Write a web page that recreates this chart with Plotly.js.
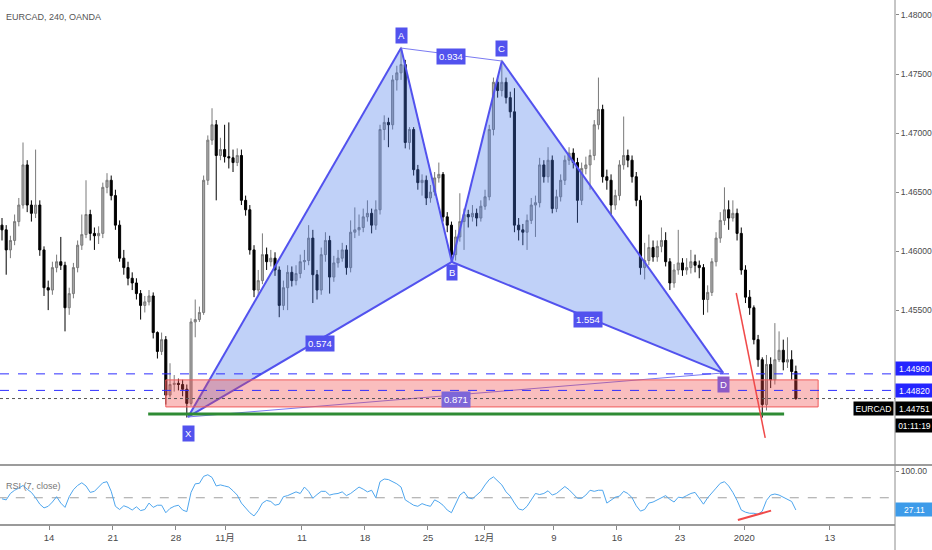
<!DOCTYPE html>
<html><head><meta charset="utf-8">
<script src="https://cdn.plot.ly/plotly-3.0.1.min.js"></script>
<style>html,body{margin:0;padding:0;background:#fff}#chart{width:932px;height:550px}</style>
</head><body><div id="chart"></div>
<script>
const firstOpen = 1.4622;
const close = [
1.4618,1.4601,1.4609,1.4625,1.4639,1.4673,1.4639,1.4632,1.4639,1.4601,
1.4569,1.4567,1.4586,1.4591,1.4588,1.4552,1.4564,1.4586,1.4605,1.4614,
1.4631,1.4615,1.4613,1.4615,1.4654,1.4660,1.4647,1.4622,1.4594,1.4586,
1.4577,1.4573,1.4564,1.4554,1.4557,1.4562,1.4531,1.4515,1.4525,1.4478,
1.4487,1.4488,1.4487,1.4483,1.4471,1.4540,1.4542,1.4548,1.4660,1.4694,
1.4707,1.4681,1.4686,1.4680,1.4679,1.4675,1.4681,1.4643,1.4635,1.4601,
1.4567,1.4575,1.4597,1.4591,1.4594,1.4584,1.4554,1.4569,1.4582,1.4575,
1.4581,1.4591,1.4592,1.4611,1.4580,1.4567,1.4597,1.4609,1.4578,1.4590,
1.4594,1.4601,1.4586,1.4616,1.4618,1.4620,1.4629,1.4632,1.4622,1.4635,
1.4703,1.4709,1.4707,1.4745,1.4751,1.4758,1.4692,1.4703,1.4669,1.4658,
1.4660,1.4645,1.4650,1.4662,1.4665,1.4629,1.4622,1.4597,1.4612,1.4625,
1.4631,1.4629,1.4632,1.4628,1.4638,1.4646,1.4703,1.4743,1.4736,1.4743,
1.4730,1.4718,1.4622,1.4618,1.4616,1.4626,1.4639,1.4641,1.4673,1.4663,
1.4677,1.4636,1.4646,1.4660,1.4677,1.4683,1.4675,1.4643,1.4670,1.4673,
1.4681,1.4707,1.4720,1.4663,1.4660,1.4639,1.4647,1.4673,1.4681,1.4677,
1.4663,1.4643,1.4586,1.4592,1.4603,1.4595,1.4604,1.4609,1.4591,1.4573,
1.4584,1.4590,1.4584,1.4586,1.4591,1.4588,1.4586,1.4559,1.4565,1.4591,
1.4611,1.4626,1.4635,1.4628,1.4632,1.4615,1.4584,1.4561,1.4552,1.4525,
1.4508,1.4470,1.4504,1.4491,1.4508,1.4516,1.4506,1.4508,1.4498,1.44751];
const high = [
1.4628,1.4622,1.4613,1.4631,1.4645,1.4692,1.4677,1.4643,1.4686,1.4643,
1.4604,1.4575,1.4591,1.4597,1.4612,1.4591,1.4569,1.4590,1.4609,1.4631,
1.4660,1.4635,1.4620,1.4621,1.4658,1.4666,1.4664,1.4652,1.4626,1.4601,
1.4591,1.4582,1.4577,1.4567,1.4562,1.4567,1.4565,1.4532,1.4531,1.4528,
1.4505,1.4495,1.4492,1.4491,1.4487,1.4543,1.4559,1.4553,1.4664,1.4698,
1.4721,1.4711,1.4696,1.4707,1.4709,1.4686,1.4687,1.4686,1.4647,1.4639,
1.4605,1.4584,1.4615,1.4603,1.4601,1.4599,1.4587,1.4575,1.4588,1.4587,
1.4588,1.4597,1.4601,1.4622,1.4618,1.4584,1.4603,1.4616,1.4613,1.4596,
1.4601,1.4607,1.4605,1.4626,1.4637,1.4631,1.4636,1.4643,1.4636,1.4643,
1.4707,1.4715,1.4713,1.4749,1.4757,1.4773,1.4762,1.4705,1.4705,1.4673,
1.4665,1.4664,1.4656,1.4667,1.4675,1.4667,1.4633,1.4625,1.4618,1.4649,
1.4636,1.4635,1.4639,1.4636,1.4643,1.4652,1.4707,1.4747,1.4748,1.4762,
1.4747,1.4735,1.4738,1.4628,1.4623,1.4631,1.4645,1.4647,1.4679,1.4677,
1.4688,1.4681,1.4652,1.4665,1.4681,1.4688,1.4687,1.4679,1.4675,1.4680,
1.4686,1.4711,1.4747,1.4724,1.4669,1.4665,1.4652,1.4677,1.4714,1.4686,
1.4681,1.4667,1.4647,1.4607,1.4614,1.4609,1.4609,1.4620,1.4616,1.4594,
1.4589,1.4618,1.4594,1.4594,1.4601,1.4597,1.4592,1.4589,1.4571,1.4594,
1.4616,1.4633,1.4654,1.4643,1.4643,1.4636,1.4620,1.4588,1.4567,1.4554,
1.4529,1.4510,1.4512,1.4510,1.4539,1.4532,1.4525,1.4527,1.4516,1.4503];
const low = [
1.4609,1.4580,1.4594,1.4605,1.4621,1.4636,1.4633,1.4625,1.4628,1.4596,
1.4562,1.4550,1.4563,1.4582,1.4584,1.4532,1.4546,1.4560,1.4582,1.4601,
1.4611,1.4609,1.4601,1.4606,1.4611,1.4649,1.4643,1.4618,1.4591,1.4580,
1.4571,1.4567,1.4559,1.4542,1.4548,1.4554,1.4526,1.4509,1.4512,1.4470,
1.4476,1.4481,1.4482,1.4477,1.4459,1.4469,1.4527,1.4540,1.4546,1.4656,
1.4690,1.4643,1.4677,1.4675,1.4670,1.4667,1.4672,1.4639,1.4630,1.4597,
1.4561,1.4563,1.4572,1.4584,1.4587,1.4579,1.4544,1.4550,1.4550,1.4570,
1.4571,1.4577,1.4584,1.4588,1.4556,1.4559,1.4563,1.4591,1.4564,1.4574,
1.4586,1.4591,1.4580,1.4582,1.4611,1.4613,1.4616,1.4625,1.4615,1.4618,
1.4631,1.4694,1.4688,1.4703,1.4736,1.4745,1.4687,1.4686,1.4664,1.4652,
1.4647,1.4639,1.4641,1.4647,1.4658,1.4625,1.4616,1.4590,1.4592,1.4608,
1.4601,1.4620,1.4625,1.4621,1.4625,1.4635,1.4643,1.4698,1.4730,1.4731,
1.4725,1.4713,1.4616,1.4609,1.4605,1.4601,1.4623,1.4612,1.4637,1.4658,
1.4658,1.4632,1.4633,1.4642,1.4656,1.4673,1.4670,1.4624,1.4639,1.4665,
1.4652,1.4677,1.4703,1.4658,1.4652,1.4631,1.4635,1.4643,1.4669,1.4671,
1.4658,1.4638,1.4580,1.4576,1.4588,1.4591,1.4591,1.4599,1.4587,1.4567,
1.4569,1.4580,1.4579,1.4580,1.4581,1.4582,1.4577,1.4546,1.4548,1.4562,
1.4587,1.4607,1.4622,1.4618,1.4625,1.4609,1.4580,1.4556,1.4546,1.4521,
1.4502,1.4459,1.4465,1.4484,1.4487,1.4506,1.4499,1.4501,1.4491,1.4474];
const rsi = [
48,46,58,64,68,73,66,60,50,38,
31,34,42,52,40,32,52,65,73,78,
72,60,62,70,78,80,62,34,28,35,
32,27,33,26,28,40,32,36,36,22,
30,34,36,27,24,60,76,77,90,93,
88,72,74,72,70,63,55,40,30,22,
16,26,40,45,43,36,38,52,54,58,
61,58,70,62,49,56,62,62,55,57,
58,61,54,58,64,70,66,61,64,50,
80,85,84,80,76,70,46,41,36,34,
39,36,34,46,42,36,27,22,40,55,
61,50,48,55,62,74,84,89,82,74,
61,53,40,29,27,34,46,58,56,58,
63,55,58,65,71,65,57,49,49,55,
64,62,64,64,40,46,51,53,62,58,
50,35,25,28,40,42,46,49,54,47,
42,51,50,54,58,60,48,38,50,60,
68,77,80,72,60,45,27,23,21,21,
19,25,45,55,57,55,51,47,43,27.11];

// time-axis labels (bar index where each label sits)
const tickIdx  = [11.2, 26.4, 41.4, 53.1, 71.4, 86.4, 101.4, 114.8, 131.4, 146.4, 161.4, 176.7, 197.1];
const tickText = ['14','21','28','11月','11','18','25','12月','9','16','23','2020','13'];
const priceTicks = [1.455, 1.460, 1.465, 1.470, 1.475, 1.480];

// XABCD pattern
const patNames = ['X','A','B','C','D'];
const patIdx   = [44.3, 95.0, 107.1, 119.0, 171.7];
const patPrice = [1.44595, 1.47720, 1.45908, 1.47610, 1.44968];
const ratioText = {XB:'0.574', AC:'0.934', BD:'1.554', XD:'0.871'};

// other drawings
const hLevels = [1.44960, 1.44820];
const lastPrice = 1.44751;
const timerText = '01:11:19';
const zoneIdx = [39.0, 194.3];
const zonePrice = [1.44680, 1.44909];
const supportIdx = [34.8, 186.2];
const supportPrice = 1.4462;
const dropIdx = [174.8, 181.7];
const dropPrice = [1.45645, 1.44417];
const rsiDivIdx = [175.2, 183.1];
const rsiDivVal = [8.4, 25.9];
const rsiLast = 27.11;

// ---------- build ----------
const FONT = '"Liberation Sans Narrow","Liberation Sans",Arial,"Noto Sans CJK JP",sans-serif';
const idx = close.map((_, i) => i);
const open = close.map((c, i) => i === 0 ? firstOpen : close[i - 1]);
const P = {}; patNames.forEach((n, i) => P[n] = [patIdx[i], patPrice[i]]);
const BLUE = '#5252ee';

const traces = [];
[['X','A','B'], ['B','C','D']].forEach(tri => {
  traces.push({type:'scatter', mode:'lines', xaxis:'x', yaxis:'y',
    x: tri.concat(tri[0]).map(n => P[n][0]), y: tri.concat(tri[0]).map(n => P[n][1]),
    fill:'toself', fillcolor:'rgba(70,120,235,0.34)', line:{width:0}, hoverinfo:'skip'});
});
traces.push({type:'candlestick', xaxis:'x', yaxis:'y', x: idx, open, high, low, close,
  increasing:{line:{color:'#7a7a7a', width:1}, fillcolor:'#a9a9a9'},
  decreasing:{line:{color:'#000000', width:1}, fillcolor:'#000000'},
  whiskerwidth:0, hoverinfo:'skip'});
[['X','A'],['A','B'],['B','X'],['B','C'],['C','D'],['D','B']].forEach(seg => {
  traces.push({type:'scatter', mode:'lines', xaxis:'x', yaxis:'y',
    x: seg.map(n => P[n][0]), y: seg.map(n => P[n][1]),
    line:{color:BLUE, width:2}, hoverinfo:'skip'});
});
[['A','C'],['X','D']].forEach(seg => {
  traces.push({type:'scatter', mode:'lines', xaxis:'x', yaxis:'y',
    x: seg.map(n => P[n][0]), y: seg.map(n => P[n][1]),
    line:{color:'#7a7af2', width:1}, hoverinfo:'skip'});
});
traces.push({type:'scatter', mode:'lines', xaxis:'x', yaxis:'y2', x: idx, y: rsi,
  line:{color:'#4ea6ee', width:1}, hoverinfo:'skip'});
traces.push({type:'scatter', mode:'lines', xaxis:'x', yaxis:'y2', x: rsiDivIdx, y: rsiDivVal,
  line:{color:'#f04a4a', width:2}, hoverinfo:'skip'});

const shapes = [
  {type:'rect', xref:'x', yref:'y', x0:zoneIdx[0], x1:zoneIdx[1], y0:zonePrice[0], y1:zonePrice[1],
   fillcolor:'rgba(240,70,70,0.35)', line:{color:'#f05a5a', width:1}, layer:'above'},
  ...hLevels.map(v => ({type:'line', xref:'paper', yref:'y', x0:0, x1:1, y0:v, y1:v,
   line:{color:'#2e2eff', width:1, dash:'dash'}, layer:'above'})),
  {type:'line', xref:'paper', yref:'y', x0:0, x1:1, y0:lastPrice, y1:lastPrice,
   line:{color:'#555', width:1, dash:'dot'}, layer:'above'},
  {type:'line', xref:'x', yref:'y', x0:supportIdx[0], x1:supportIdx[1], y0:supportPrice, y1:supportPrice,
   line:{color:'#2e8b34', width:3}, layer:'above'},
  {type:'line', xref:'x', yref:'y', x0:dropIdx[0], x1:dropIdx[1], y0:dropPrice[0], y1:dropPrice[1],
   line:{color:'#f04a4a', width:1.5}, layer:'above'},
  {type:'line', xref:'x', yref:'y2', x0:-1, x1:300, y0:50, y1:50,
   line:{color:'#a0a0a0', width:1, dash:'dash'}, layer:'below'},
  {type:'line', xref:'paper', yref:'paper', x0:0, x1:1.05, y0:0.1126, y1:0.1126,
   line:{color:'#9c9c9c', width:2}},
  {type:'line', xref:'paper', yref:'paper', x0:1, x1:1, y0:-0.06, y1:1,
   line:{color:'#8c8c8c', width:1}},
];

const ann = [];
const lab = (x, y, text, opts) => Object.assign({x, y, xref:'x', yref:'y', text, showarrow:false,
  bgcolor:BLUE, font:{color:'#fff', size:9.5, family:FONT}, borderpad:2}, opts || {});
ann.push(lab(P.X[0], P.X[1], 'X', {yshift:-17}));
ann.push(lab(P.A[0], P.A[1], 'A', {yshift:13}));
ann.push(lab(P.B[0], P.B[1], 'B', {yshift:-11}));
ann.push(lab(P.C[0], P.C[1], 'C', {yshift:13}));
ann.push(lab(P.D[0], P.D[1], 'D', {yshift:-12, bgcolor:'#8c5cc6'}));
const mid = (a, b) => [(P[a][0] + P[b][0]) / 2, (P[a][1] + P[b][1]) / 2];
ann.push(lab(...mid('X','B'), ratioText.XB, {yshift:-4}));
ann.push(lab(...mid('A','C'), ratioText.AC, {yshift:-2}));
ann.push(lab(...mid('B','D'), ratioText.BD, {yshift:-2}));
ann.push(lab(...mid('X','D'), ratioText.XD, {yshift:-5, bgcolor:'#7d66d8'}));
const rl = (y, text, bg, yshift, yref) => ({x:1, xref:'paper', y, yref:yref || 'y', text, showarrow:false,
  xanchor:'left', bgcolor:bg, font:{color:'#fff', size:8.5, family:FONT}, borderpad:1.5, width:34, yshift});
ann.push(rl(hLevels[0], hLevels[0].toFixed(5), '#2424ff', 5));
ann.push(rl(hLevels[1], hLevels[1].toFixed(5), '#2424ff', 0));
ann.push(rl(lastPrice, lastPrice.toFixed(5), '#000', -10));
ann.push(rl(lastPrice, timerText, '#000', -27));
ann.push({x:1, xref:'paper', y:lastPrice, yref:'y', text:'EURCAD', showarrow:false, xanchor:'right',
  bgcolor:'#000', font:{color:'#fff', size:8.5, family:FONT}, borderpad:1.5, yshift:-10, xshift:-1});
ann.push(rl(rsiLast, rsiLast.toFixed(2), '#3d9be9', 0, 'y2'));
ann.push({x:0.005, y:1 - 17/524, xref:'paper', yref:'paper', xanchor:'left', yanchor:'middle',
  text:'EURCAD, 240, OANDA', showarrow:false, font:{size:9, color:'#555', family:FONT}});
ann.push({x:0.004, y:1 - 486/524, xref:'paper', yref:'paper', xanchor:'left', yanchor:'middle',
  text:'RSI (7, close)', showarrow:false, font:{size:9, color:'#777', family:FONT}});

const layout = {
  width:932, height:550, margin:{l:0, r:37, t:0, b:26},
  paper_bgcolor:'#fff', plot_bgcolor:'#fff', showlegend:false, hovermode:false, dragmode:false,
  font:{family:FONT, size:9, color:'#4a4a4a'},
  xaxis:{range:[-0.476, 212.6], anchor:'y2', tickvals:tickIdx, ticktext:tickText,
    ticks:'outside', ticklen:4, tickcolor:'#888', showgrid:false, zeroline:false,
    showline:true, linecolor:'#9a9a9a', linewidth:2, rangeslider:{visible:false},
    tickfont:{size:9.5, color:'#4a4a4a', family:FONT}, fixedrange:true},
  yaxis:{domain:[1 - 463/524, 1], range:[1.44205, 1.48127], side:'right', anchor:'x',
    tickvals:priceTicks, tickformat:'.5f', ticks:'outside', ticklen:3, tickcolor:'#888',
    showgrid:false, zeroline:false, showline:false, tickfont:{size:8.6, color:'#4a4a4a', family:FONT}, fixedrange:true},
  yaxis2:{domain:[0, 57/524], range:[0.9, 107.5], side:'right', anchor:'x',
    tickvals:[100], ticktext:['100.00'], ticks:'outside', ticklen:3, tickcolor:'#888',
    showgrid:false, zeroline:false, showline:false, tickfont:{size:8.6, color:'#4a4a4a', family:FONT}, fixedrange:true},
  shapes, annotations:ann
};
Plotly.newPlot('chart', traces, layout, {staticPlot:true, displayModeBar:false});
</script></body></html>
